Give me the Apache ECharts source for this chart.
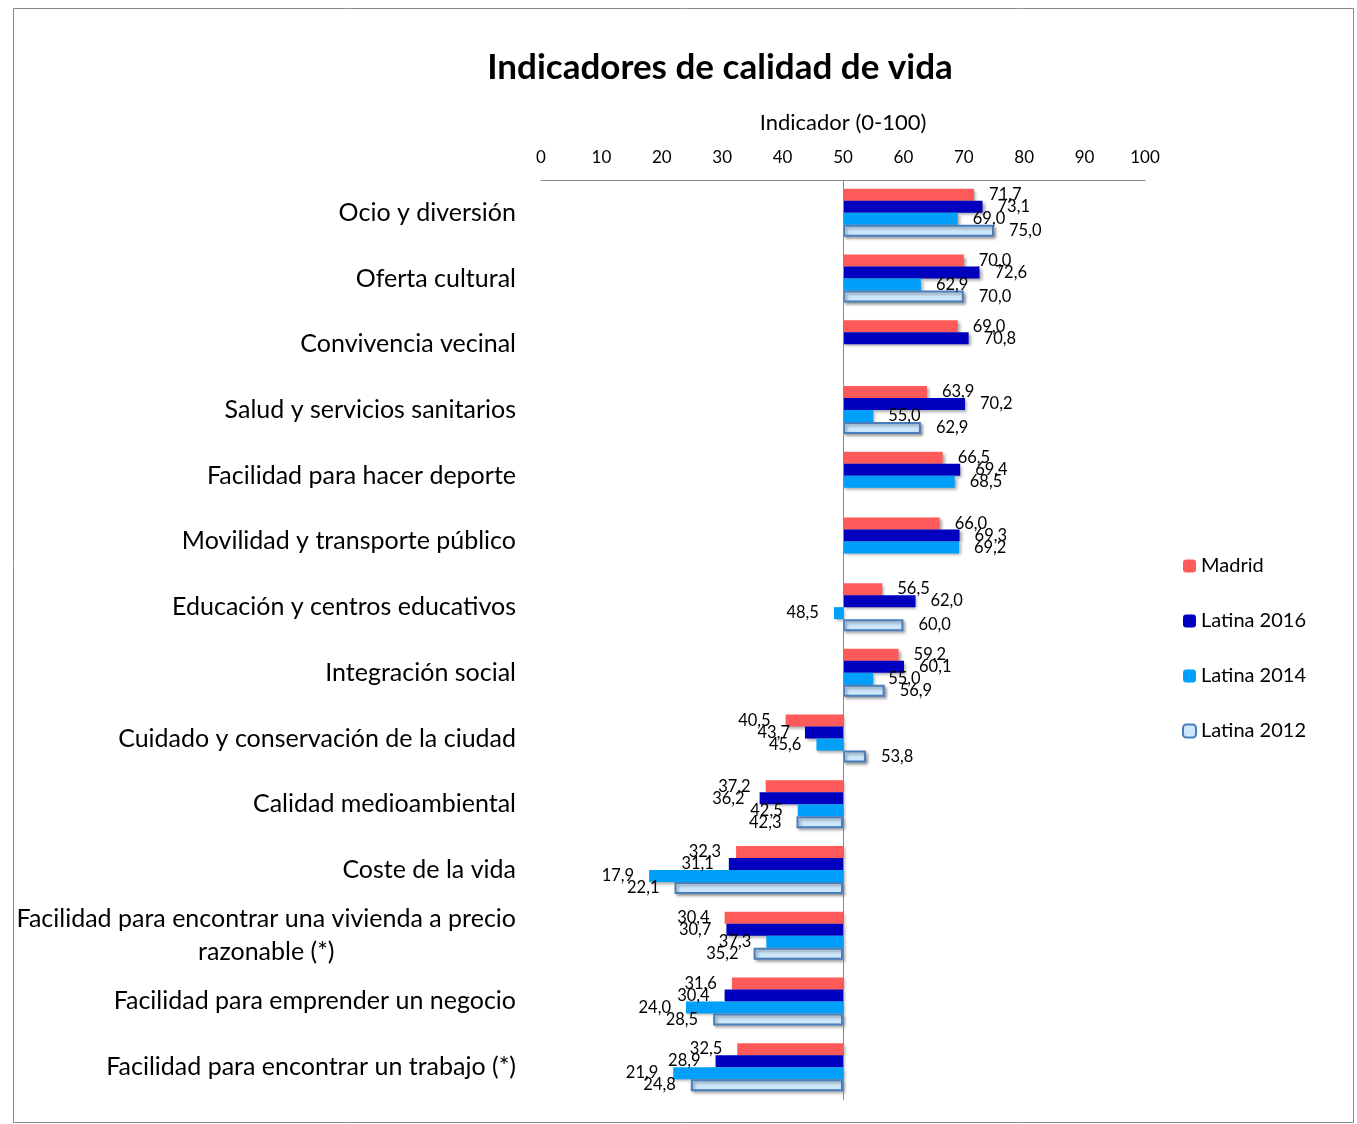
<!DOCTYPE html>
<html><head><meta charset="utf-8">
<script src="https://cdn.jsdelivr.net/npm/echarts@6/dist/echarts.min.js"></script>
<style>html,body{margin:0;padding:0;background:#fff}#c{width:1357px;height:1124px}</style>
</head><body><div id="c"></div>
<script>
const categories = [
  "Ocio y diversión",
  "Oferta cultural",
  "Convivencia vecinal",
  "Salud y servicios sanitarios",
  "Facilidad para hacer deporte",
  "Movilidad y transporte público",
  "Educación y centros educativos",
  "Integración social",
  "Cuidado y conservación de la ciudad",
  "Calidad medioambiental",
  "Coste de la vida",
  "Facilidad para encontrar una vivienda a precio\nrazonable (*)",
  "Facilidad para emprender un negocio",
  "Facilidad para encontrar un trabajo (*)"
];
const madrid     = [71.7, 70.0, 69.0, 63.9, 66.5, 66.0, 56.5, 59.2, 40.5, 37.2, 32.3, 30.4, 31.6, 32.5];
const latina2016 = [73.1, 72.6, 70.8, 70.2, 69.4, 69.3, 62.0, 60.1, 43.7, 36.2, 31.1, 30.7, 30.4, 28.9];
const latina2014 = [69.0, 62.9, null, 55.0, 68.5, 69.2, 48.5, 55.0, 45.6, 42.5, 17.9, 37.3, 24.0, 21.9];
const latina2012 = [75.0, 70.0, null, 62.9, null, null, 60.0, 56.9, 53.8, 42.3, 22.1, 35.2, 28.5, 24.8];
const tickValues = [0, 10, 20, 30, 40, 50, 60, 70, 80, 90, 100];
const baseline = 50;

const FONT = "Lato";
const chart = echarts.init(document.getElementById('c'));

function mkData(arr) {
  return arr.map(v => v === null ? '-' : {
    value: v - baseline,
    label: { position: v < baseline ? 'left' : 'right' }
  });
}
function fmtLabel(arr) {
  return p => {
    const v = arr[p.dataIndex];
    return v === null ? '' : v.toFixed(1).replace('.', ',');
  };
}
const shadow = { shadowBlur: 3, shadowOffsetX: 2, shadowOffsetY: 2, shadowColor: 'rgba(0,0,0,0.35)' };
function series(name, arr, style, extra) {
  return Object.assign({
    name, type: 'bar', data: mkData(arr),
    barWidth: 12, barGap: '0%', barCategoryGap: '27%',
    itemStyle: Object.assign({}, shadow, style),
    label: { show: true, distance: 15, color: '#000', fontFamily: FONT, fontSize: 16.5, formatter: fmtLabel(arr) }
  }, extra || {});
}

chart.setOption({
  animation: false,
  textStyle: { fontFamily: FONT },
  title: {
    text: 'Indicadores de calidad de vida', left: 715, top: 45, textAlign: 'center',
    textStyle: { fontFamily: FONT, fontWeight: 'bold', fontSize: 35, color: '#000' }
  },
  graphic: [{
    type: 'rect', shape: { x: 13.5, y: 8.5, width: 1340, height: 1114 },
    style: { fill: 'none', stroke: '#8a8a8a', lineWidth: 1 }, silent: true, z: -1
  }],
  legend: {
    orient: 'vertical', left: 1177, top: 551,
    itemWidth: 13, itemHeight: 13, itemGap: 35,
    textStyle: { fontFamily: FONT, fontSize: 20, color: '#000' },
    data: ['Madrid', 'Latina 2016', 'Latina 2014', 'Latina 2012']
  },
  grid: { left: 541, right: 212, top: 180, bottom: 24 },
  xAxis: {
    type: 'value', position: 'top', min: tickValues[0] - baseline, max: tickValues[tickValues.length - 1] - baseline, interval: 10,
    name: 'Indicador (0-100)', nameLocation: 'middle', nameGap: 46,
    nameTextStyle: { fontFamily: FONT, fontSize: 22, color: '#000' },
    axisLine: { show: true, lineStyle: { color: '#888', width: 1 } },
    axisTick: { show: false },
    splitLine: { show: false },
    axisLabel: { margin: 14, fontFamily: FONT, fontSize: 17, color: '#000', formatter: v => String(v + baseline) }
  },
  yAxis: {
    type: 'category', inverse: true, data: categories,
    axisLine: { show: false }, axisTick: { show: false },
    axisLabel: {
      margin: 25, fontFamily: FONT, fontSize: 25, color: '#000', lineHeight: 33,
      formatter: v => v.split('\n').map(s => '{c|' + s + '}').join('\n'),
      rich: { c: { align: 'center', fontFamily: FONT, fontSize: 25, color: '#000', lineHeight: 33 } }
    }
  },
  series: [
    series('Madrid', madrid, { color: '#FF5A5A' }, {
      markLine: {
        silent: true, symbol: 'none', label: { show: false },
        lineStyle: { color: '#888', width: 1, type: 'solid' },
        data: [{ xAxis: 0 }]
      }
    }),
    series('Latina 2016', latina2016, { color: '#0000BE' }),
    series('Latina 2014', latina2014, { color: '#00A0FA' }),
    series('Latina 2012', latina2012, { color: '#CDE8FD', borderColor: '#4A7EBB', borderWidth: 2 })
  ]
});
</script></body></html>
